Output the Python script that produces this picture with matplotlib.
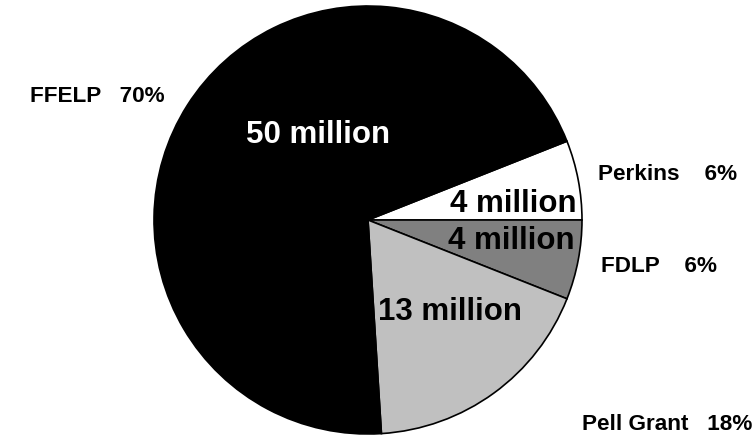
import matplotlib
matplotlib.use("Agg")
import matplotlib.pyplot as plt

# loan programs, share of borrowers
programs = ["Perkins", "FDLP", "Pell Grant", "FFELP"]
shares = [6, 6, 18, 70]
counts = ["4 million", "4 million", "13 million", "50 million"]
colors = ["white", "#808080", "#c0c0c0", "black"]
gaps = [4, 4, 3, 3]

plt.rcParams['font.family'] = ['Liberation Sans', 'DejaVu Sans']

W, H = 753, 437
fig = plt.figure(figsize=(W / 100, H / 100), dpi=100)
cx, cy, r = 368, 220, 214
ax = fig.add_axes([(cx - r) / W, (H - cy - r) / H, 2 * r / W, 2 * r / H])

ax.pie(shares, colors=colors, startangle=21.6, counterclock=False,
       wedgeprops=dict(edgecolor="black", linewidth=1.2))
ax.set_xlim(-1, 1)
ax.set_ylim(-1, 1)
ax.axis("off")

def px(x, y):
    return (x - cx) / r, (cy - y) / r

# outer labels (left edge, middle y in pixels)
outer_pos = [(598, 174), (601, 266), (582, 424), (30, 96)]
for name, s, g, (x, y) in zip(programs, shares, gaps, outer_pos):
    ax.text(*px(x, y), name + " " * g + f"{s}%", ha="left", va="center",
            fontsize=16.2, fontweight="bold", clip_on=False)

# counts inside the slices
inner_pos = [(513, 204), (511, 241), (450, 312), (318, 135)]
inner_col = ["black", "black", "black", "white"]
for c, (x, y), col in zip(counts, inner_pos, inner_col):
    ax.text(*px(x, y), c, ha="center", va="center", fontsize=22.5,
            fontweight="bold", color=col)

fig.savefig("out.png", dpi=100)
